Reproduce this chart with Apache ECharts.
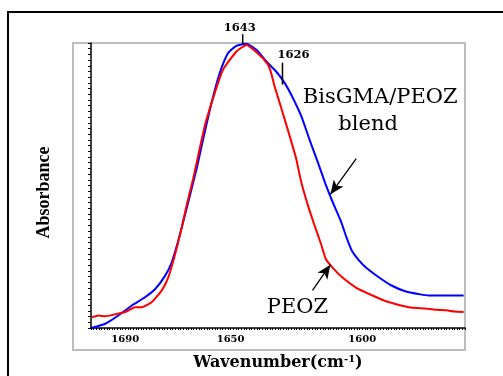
<!DOCTYPE html>
<html><head><meta charset="utf-8">
<script src="https://cdn.jsdelivr.net/npm/echarts@6/dist/echarts.min.js"></script>
<style>html,body{margin:0;padding:0;background:#fff}#c{width:503px;height:376px}</style>
</head><body><div id="c"></div>
<script>
// Wavenumber (cm-1), absorbance (normalised)
var blendX = [1702.6,1697.6,1692.6,1687.5,1682.5,1678.7,1674.9,1672.4,1669.9,1667.3,1662.9,1660.4,1657.2,1654.1,1651.0,1647.8,1644.0,1640.2,1636.4,1632.7,1629.5,1626.4,1623.2,1620.1,1616.9,1613.8,1611.3,1608.1,1606.0,1604.0,1601.5,1598.6,1593.6,1589.1,1584.0,1578.0,1574.7,1561.5];
var blendY = [0.001,0.015,0.044,0.079,0.108,0.136,0.183,0.229,0.305,0.397,0.559,0.663,0.791,0.895,0.964,0.990,0.997,0.976,0.935,0.900,0.860,0.808,0.744,0.663,0.582,0.501,0.443,0.374,0.318,0.272,0.240,0.212,0.177,0.150,0.130,0.118,0.114,0.114];
var peozX = [1702.6,1700.1,1697.6,1693.8,1690.0,1686.3,1683.7,1680.0,1676.2,1673.7,1671.1,1668.6,1666.7,1664.2,1659.8,1656.0,1652.9,1647.8,1644.0,1639.0,1635.8,1634.6,1633.3,1631.4,1629.5,1627.6,1625.1,1623.2,1620.7,1618.2,1615.6,1613.8,1611.3,1607.5,1602.4,1596.1,1591.0,1582.3,1576.0,1572.2,1568.0,1565.0,1561.5];
var peozY = [0.038,0.044,0.041,0.048,0.056,0.073,0.073,0.090,0.131,0.177,0.258,0.351,0.430,0.524,0.709,0.825,0.906,0.970,0.993,0.958,0.924,0.895,0.848,0.791,0.733,0.675,0.594,0.513,0.432,0.362,0.293,0.241,0.212,0.177,0.142,0.114,0.094,0.073,0.068,0.064,0.062,0.058,0.056];
var xTickLabels = [1690, 1650, 1600];
var peakLabels = [{text:'1643', x:1646.5, y:1.052}, {text:'1626', x:1626.1, y:0.958}];
var peakTicks = [[[1645.4,1.031],[1645.4,0.997]], [[1630.3,0.931],[1630.3,0.854]]];
var arrows = [[[1602.3,0.594],[1612.1,0.469]], [[1618.9,0.132],[1612.1,0.222]]];
var seriesText = [{text:'BisGMA/PEOZ', x:1593.2, y:0.809}, {text:'blend', x:1597.8, y:0.715}, {text:'PEOZ', x:1624.6, y:0.073}];

function zip(a,b){return a.map(function(v,i){return [v,b[i]];});}
var chart = echarts.init(document.getElementById('c'), null, {renderer:'canvas'});
var markLineData = arrows.map(function(a){return [{coord:a[0],symbol:'none'},{coord:a[1],symbol:'arrow',symbolSize:[9,14]}];});
var textPoints = seriesText.map(function(p){return {coord:[p.x,p.y], label:{formatter:p.text, fontFamily:'DejaVu Serif', fontSize:21, letterSpacing:1}};});
var frames = [
  {type:'rect', shape:{x:8,y:12,width:600,height:500}, style:{fill:'none', stroke:'#000', lineWidth:2}, z:-10},
  {type:'rect', shape:{x:73,y:43,width:392,height:307}, style:{fill:'none', stroke:'#bdbdbd', lineWidth:2}, z:-9}
];
chart.setOption({
  animation:false,
  graphic:frames,
  grid:{left:91, right:38, top:43, bottom:45},
  xAxis:{type:'value', inverse:true, min:1561, max:1703, interval:1,
    name:'{a|Wavenumber(cm}{s|-1}{a|)}', nameLocation:'middle', nameGap:26,
    nameTextStyle:{rich:{a:{fontFamily:'DejaVu Serif',fontWeight:'bold',fontSize:16,color:'#000'},s:{fontFamily:'DejaVu Serif',fontWeight:'bold',fontSize:10,color:'#000',verticalAlign:'top',padding:[0,0,8,0]}}},
    axisLine:{lineStyle:{color:'#000',width:1.5}},
    axisTick:{length:2, lineStyle:{color:'#000'}},
    axisLabel:{customValues:xTickLabels, margin:6, formatter:function(v){return String(v);}, fontFamily:'DejaVu Serif', fontWeight:'bold', fontSize:10, color:'#000'},
    splitLine:{show:false}},
  yAxis:{type:'value', min:0, max:1, interval:0.02,
    name:'Absorbance', nameLocation:'middle', nameGap:38, nameRotate:90,
    nameTextStyle:{fontFamily:'Liberation Serif', fontWeight:'bold', fontSize:18, color:'#000', padding:[0,14,0,0]},
    axisLine:{show:true, lineStyle:{color:'#000',width:1.5}},
    axisTick:{show:true, length:3, lineStyle:{color:'#000'}},
    axisLabel:{show:false}, splitLine:{show:false}},
  series:[
    {type:'line', data:zip(blendX,blendY), smooth:0.2, showSymbol:false, clip:false,
     lineStyle:{color:'#0000ff', width:2}, z:2},
    {type:'line', data:zip(peozX,peozY), smooth:0.15, showSymbol:false, clip:false,
     lineStyle:{color:'#ff0000', width:2}, z:3,
     markLine:{silent:true, animation:false, lineStyle:{color:'#000', width:1.3, type:'solid'}, label:{show:false}, data:markLineData},
     markPoint:{silent:true, symbol:'circle', symbolSize:0, label:{show:true, position:'inside', color:'#000'}, data:textPoints}}
  ]
});
// Peak annotations (partly above the plot top) placed via the axes' own scale
var extra = [];
peakTicks.forEach(function(t){
  var a = chart.convertToPixel({gridIndex:0}, t[0]), b = chart.convertToPixel({gridIndex:0}, t[1]);
  extra.push({type:'line', shape:{x1:a[0],y1:a[1],x2:b[0],y2:b[1]}, style:{stroke:'#000', lineWidth:1.5}, z:10});
});
peakLabels.forEach(function(p){
  var q = chart.convertToPixel({gridIndex:0}, [p.x,p.y]);
  extra.push({type:'text', x:q[0], y:q[1], style:{text:p.text, align:'center', verticalAlign:'middle', fontFamily:'DejaVu Serif', fontWeight:'bold', fontSize:11.5, fill:'#000'}, z:10});
});
chart.setOption({graphic: frames.concat(extra)}, {replaceMerge:['graphic']});
</script></body></html>
